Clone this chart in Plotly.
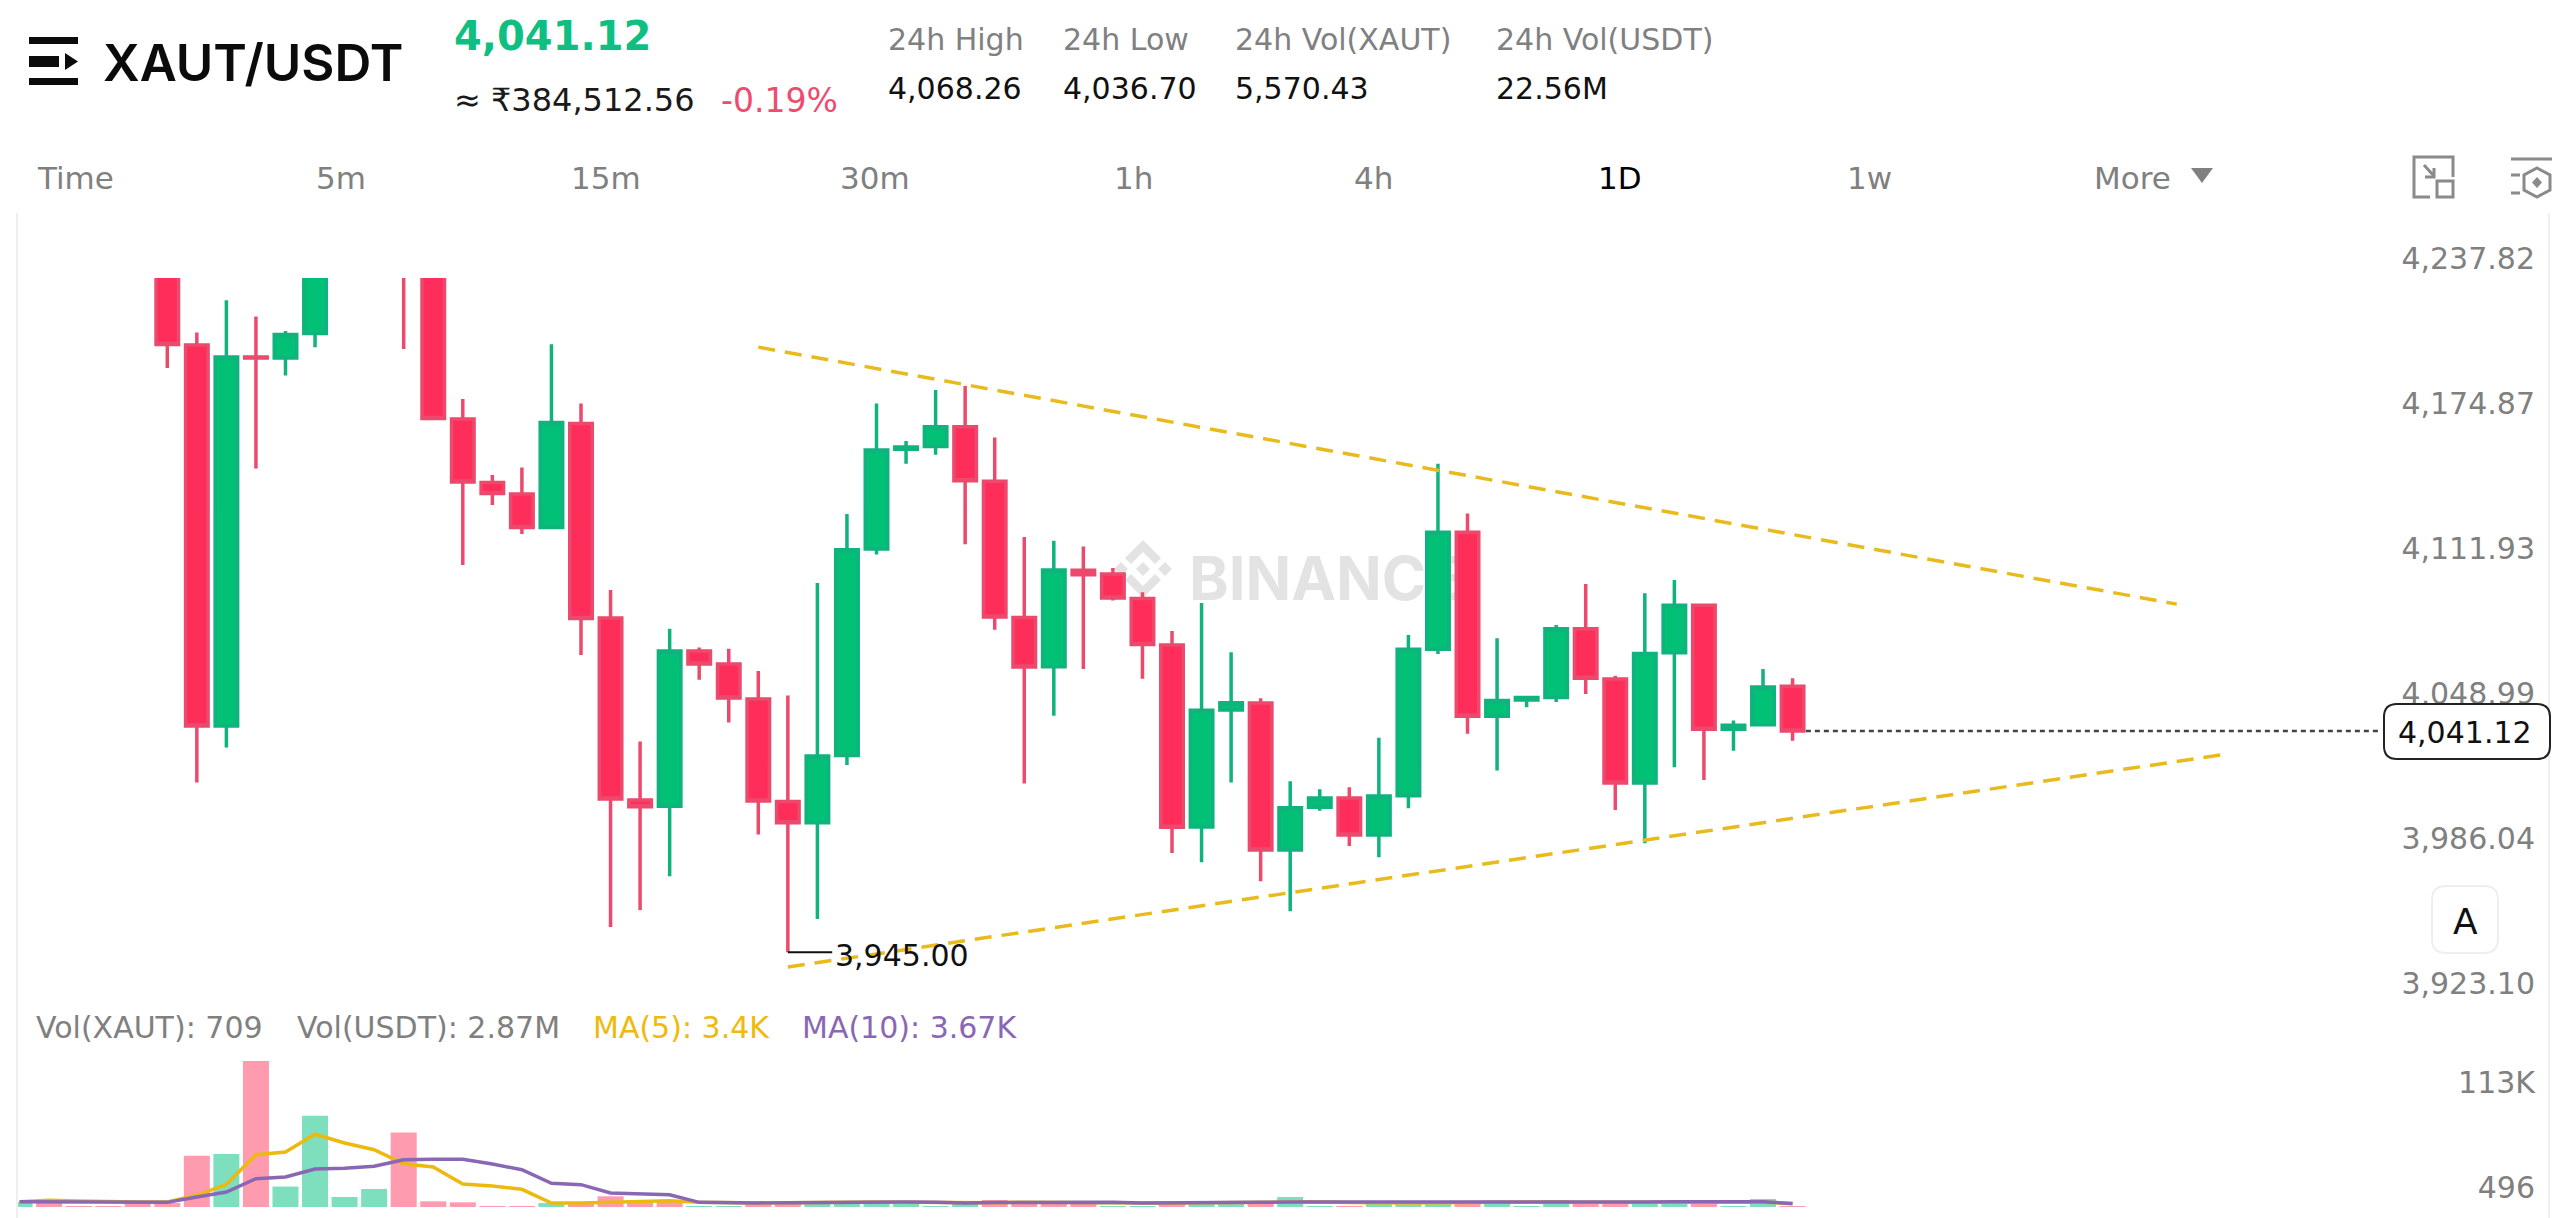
import plotly.graph_objects as go

W, H = 2560, 1218
FONT = "DejaVu Sans"
TITLE_FONT = "Inter"
GREEN = "#02C076"
RED = "#FF2D5A"
GREY = "#808080"

# ---------- data ----------
candle_index = list(range(0, 56))
open_ = [4270, 4208.7, 4043.3, 4203.5, 4203.1, 4213.7, 4250, 4262, 4275, 4245,
         4176.6, 4149.0, 4144.0, 4129.5, 4174.6, 4090.2, 4011.1, 4008.4, 4075.8, 4070.2,
         4055.0, 4010.5, 4001.2, 4030.4, 4120.1, 4163.5, 4164.6, 4173.2, 4149.6, 4090.4,
         4069.0, 4110.9, 4109.3, 4098.6, 4078.4, 3999.4, 4050.2, 4053.3, 3989.4, 4008.0,
         4012.0, 3995.9, 4013.0, 4076.6, 4127.4, 4047.5, 4054.6, 4055.6, 4085.5, 4063.7,
         4018.5, 4075.1, 4095.7, 4041.8, 4043.8, 4060.5]
high = [4285, 4214.1, 4228.2, 4221.1, 4214.8, 4255, 4290, 4300, 4285, 4250,
        4185.3, 4152.3, 4155.5, 4209.1, 4183.3, 4102.3, 4036.5, 4085.5, 4077.4, 4076.8,
        4067.2, 4056.5, 4105.4, 4135.3, 4183.3, 4167.0, 4189.2, 4190.9, 4168.5, 4125.3,
        4123.7, 4121.2, 4111.9, 4101.3, 4084.5, 4096.7, 4075.3, 4055.3, 4019.3, 4015.8,
        4016.7, 4038.2, 4082.8, 4157.2, 4135.5, 4081.4, 4056.4, 4087.1, 4104.9, 4065.1,
        4100.9, 4106.7, 4095.8, 4045.6, 4068.0, 4064.0]
low = [4198.7, 4018.7, 4033.9, 4155.1, 4195.5, 4207.8, 4243, 4245, 4207.0, 4176.1,
       4113.2, 4139.2, 4126.6, 4129.5, 4074.1, 3956.0, 3963.4, 3978.0, 4063.3, 4044.8,
       3996.1, 3945.00, 3959.5, 4026.3, 4117.7, 4157.2, 4161.1, 4122.2, 4085.1, 4018.3,
       4047.7, 4068.0, 4097.8, 4063.8, 3988.1, 3984.1, 4018.7, 3975.8, 3962.8, 4006.5,
       3991.2, 3986.3, 4007.5, 4074.5, 4039.9, 4023.9, 4051.4, 4053.7, 4057.2, 4006.8,
       3992.3, 4025.3, 4019.8, 4032.5, 4043.8, 4036.9]
close = [4208.9, 4043.3, 4203.5, 4203.1, 4213.3, 4245, 4262, 4275, 4245, 4176.8,
         4149.2, 4144.2, 4129.5, 4175.1, 4089.9, 4011.6, 4008.2, 4075.8, 4070.2, 4055.4,
         4010.7, 4001.2, 4030.2, 4119.8, 4163.1, 4164.4, 4173.2, 4149.8, 4090.6, 4068.9,
         4111.0, 4108.9, 4098.8, 4078.7, 3999.3, 4050.1, 4053.4, 3989.4, 4007.8, 4012.0,
         3995.9, 4012.9, 4076.6, 4127.4, 4047.5, 4054.3, 4055.6, 4085.5, 4064.0, 4018.5,
         4074.8, 4095.7, 4041.8, 4043.6, 4060.2, 4041.12]

volume_index = list(range(-5, 56))
volume = [5400, 5400, 700, 700, 4300, 4300, 55000, 57000, 157000, 22000,
          98000, 10800, 19400, 80000, 6100, 5000, 700, 700, 4300, 4300,
          11500, 7200, 5400, 700, 700, 4300, 4300, 4300, 4300, 4300,
          4300, 700, 4300, 7500, 4300, 4300, 4300, 700, 700, 4300,
          4300, 4300, 4300, 10800, 700, 700, 4300, 4300, 4300, 4300,
          7000, 700, 7500, 4300, 4300, 4300, 4300, 4300, 700, 8600, 709]
volume_up = [1, 0, 0, 0, 0, 0, 0, 1, 0, 1,
             1, 1, 1, 0, 0, 0, 0, 0, 1, 0,
             0, 0, 0, 1, 1, 0, 0, 1, 1, 1,
             1, 1, 1, 0, 0, 0, 0, 1, 1, 0,
             1, 1, 0, 1, 1, 0, 1, 1, 1, 0,
             1, 1, 1, 0, 0, 1, 1, 0, 1, 1, 0]
ma5 = [5700, 7200, 6500, 5700, 5400, 5400, 12600, 24400, 56200, 59100,
       78200, 68800, 61600, 46500, 43000, 24700, 22600, 19000, 4300, 4300,
       5400, 6500, 6800, 5000, 4500, 4400, 4500, 5000, 5300, 5500,
       5200, 4800, 4400, 4700, 5200, 5200, 5300, 4900, 4400, 4300,
       4500, 4800, 5200, 5800, 5600, 4900, 4500, 4400, 4700, 5000,
       5200, 5600, 5500, 5200, 5200, 5300, 5500, 5700, 5200, 5300, 3400]
ma10 = [5700, 5700, 5700, 5400, 5000, 5000, 10800, 16100, 30400, 32300,
        40900, 41600, 43800, 50800, 51300, 51300, 46200, 40100, 25500, 24000,
        15000, 14300, 13200, 5000, 4400, 4400, 4700, 5000, 5600, 5600,
        5400, 5000, 4300, 4800, 5000, 5000, 5200, 5000, 4300, 4300,
        4600, 4800, 5000, 5400, 5400, 4800, 4600, 4600, 4800, 5000,
        5000, 5400, 5400, 5000, 5200, 5400, 5600, 5600, 5400, 5600, 3670]

upper_trend_x = [20.0, 68.0]
upper_trend_y = [4207.8, 4096.2]
lower_trend_x = [21.0, 69.7]
lower_trend_y = [3938.6, 4031.1]

last_price = 4041.12
last_price_x = [55.45, 74.9]
low_price = 3945.00
low_marker_x = [21.0, 22.5]

price_ticks = [4237.82, 4174.87, 4111.93, 4048.99, 3986.04, 3923.10]
price_tick_labels = ["4,237.82", "4,174.87", "4,111.93", "4,048.99", "3,986.04", "3,923.10"]
volume_ticks = [113000, 496]
volume_tick_labels = ["113K", "496"]

stat_titles = ["24h High", "24h Low", "24h Vol(XAUT)", "24h Vol(USDT)"]
stat_values = ["4,068.26", "4,036.70", "5,570.43", "22.56M"]
stat_left = [887, 1062, 1234, 1495]
tab_names = ["Time", "5m", "15m", "30m", "1h", "4h", "1D", "1w", "More"]
tab_left = [36, 315, 570, 839, 1113, 1353, 1597, 1846, 2093]
legend_items = [("Vol(XAUT): 709", 35, "#808080"), ("Vol(USDT): 2.87M", 296, "#808080"),
                ("MA(5): 3.4K", 592, "#F0B90B"), ("MA(10): 3.67K", 801, "#8A67B5")]


# ---------- page helpers (furniture only) ----------
def fx(p):
    return p / W


def fy(p):
    return 1 - p / H


def path(points, closed=True):
    s = "M " + " L ".join(f"{fx(x):.6f},{fy(y):.6f}" for x, y in points)
    return s + (" Z" if closed else "")


def rounded(x0, y0, x1, y1, r):
    a, b = fx(x0), fy(y0)
    c, d = fx(x1), fy(y1)
    rx, ry = r / W, r / H
    return (f"M {a+rx:.6f},{b:.6f} L {c-rx:.6f},{b:.6f} Q {c:.6f},{b:.6f} {c:.6f},{b-ry:.6f} "
            f"L {c:.6f},{d+ry:.6f} Q {c:.6f},{d:.6f} {c-rx:.6f},{d:.6f} L {a+rx:.6f},{d:.6f} "
            f"Q {a:.6f},{d:.6f} {a:.6f},{d+ry:.6f} L {a:.6f},{b-ry:.6f} Q {a:.6f},{b:.6f} {a+rx:.6f},{b:.6f} Z")


shapes = []


def add_fill(points, color, layer="above"):
    shapes.append(dict(type="path", xref="paper", yref="paper", path=path(points),
                       fillcolor=color, line=dict(width=0), layer=layer))


def add_line(points, color=GREY, width=3, closed=False):
    shapes.append(dict(type="path", xref="paper", yref="paper", path=path(points, closed),
                       line=dict(color=color, width=width), layer="above"))


def note(text, x, y, size=30, color=GREY, anchor="left", weight=None, family=FONT):
    f = dict(family=family, size=size, color=color)
    if weight:
        f["weight"] = weight
    return dict(text=text, xref="paper", yref="paper", x=fx(x), y=fy(y), xanchor=anchor,
                yanchor="middle", showarrow=False, font=f, borderpad=0)


# logo
for y0, y1 in [(37, 44), (78, 85)]:
    add_fill([(29, y0), (78, y0), (78, y1), (29, y1)], "#0B0B0B")
add_fill([(29, 56), (59, 56), (59, 67), (29, 67)], "#0B0B0B")
add_fill([(65, 53), (78, 61.5), (65, 70)], "#0B0B0B")

# More triangle
add_fill([(2191, 168), (2213, 168), (2202, 183)], GREY)

# top-right icons
add_line([(2453, 177), (2453, 157), (2414, 157), (2414, 197), (2430, 197)], "#8A8A8A", 3)
add_line([(2437, 181), (2453, 181), (2453, 197), (2437, 197)], "#8A8A8A", 3, True)
add_line([(2424, 165), (2434, 176)], "#8A8A8A", 3)
add_line([(2434, 168), (2434, 177), (2425, 177)], "#8A8A8A", 3)
add_line([(2511, 159), (2552, 159)], "#8A8A8A", 3)
add_line([(2537, 168), (2550, 175), (2550, 190), (2537, 197), (2524, 190), (2524, 175)], "#8A8A8A", 3, True)
add_fill([(2537, 177), (2542, 182.5), (2537, 188), (2532, 182.5)], "#8A8A8A")
add_line([(2511, 175), (2520, 175)], "#8A8A8A", 3)
add_line([(2511, 193), (2520, 193)], "#8A8A8A", 3)

# panel frame
add_line([(17, 213), (17, 1218)], "#EFEFEF", 2)
add_line([(2549, 213), (2549, 1218)], "#EFEFEF", 2)

# watermark
WM = "#E3E3E3"
cx, cy = 1143, 569
add_fill([(cx, cy-29), (cx+18, cy-11), (cx+12, cy-5), (cx, cy-17), (cx-12, cy-5), (cx-18, cy-11)], WM, "below")
add_fill([(cx, cy+29), (cx+18, cy+11), (cx+12, cy+5), (cx, cy+17), (cx-12, cy+5), (cx-18, cy+11)], WM, "below")
add_fill([(cx, cy-7), (cx+7, cy), (cx, cy+7), (cx-7, cy)], WM, "below")
add_fill([(cx-22, cy-7), (cx-15, cy), (cx-22, cy+7), (cx-29, cy)], WM, "below")
add_fill([(cx+22, cy-7), (cx+29, cy), (cx+22, cy+7), (cx+15, cy)], WM, "below")
shapes.append(dict(type="rect", xref="paper", yref="paper", x0=fx(1186), x1=fx(1480), y0=fy(600), y1=fy(552),
                   line=dict(width=0), fillcolor="rgba(0,0,0,0)", layer="below",
                   label=dict(text="<b>BINANCE</b>", textposition="middle left", padding=0,
                              font=dict(family=TITLE_FONT, size=60, color=WM))))

# last price box and A button
shapes.append(dict(type="path", xref="paper", yref="paper", path=rounded(2384, 704, 2550, 759, 13),
                   fillcolor="#FFFFFF", line=dict(color="#222222", width=2), layer="above"))
shapes.append(dict(type="path", xref="paper", yref="paper", path=rounded(2432, 886, 2498, 953, 14),
                   fillcolor="#FFFFFF", line=dict(color="#EEEEEE", width=2), layer="above"))

annotations = [
    note("XAUT/USDT", 102, 62, 51, "#0B0B0B", weight=600, family=TITLE_FONT),
    note("4,041.12", 453, 36, 40, "#0FBF82", weight=700),
    note("≈ ₹384,512.56", 453, 100, 32, "#1A1A1A"),
    note("-0.19%", 720, 100, 33, "#EE4B6E"),
    note("4,041.12", 2465, 732, 30, "#111111", "center"),
    note("A", 2465, 921, 36, "#111111", "center"),
]
for title, val, left in zip(stat_titles, stat_values, stat_left):
    annotations.append(note(title, left, 39, 30, GREY))
    annotations.append(note(val, left, 88, 30, "#111111"))
for name, left in zip(tab_names, tab_left):
    annotations.append(note(name, left, 178, 31, "#000000" if name == "1D" else GREY))
for text, left, color in legend_items:
    annotations.append(note(text, left, 1027, 30, color))
annotations.append(dict(text=f"{low_price:,.2f}", x=low_marker_x[1], y=low_price, xref="x", yref="y",
                        xanchor="left", yanchor="middle", showarrow=False, xshift=1, yshift=-3,
                        font=dict(family=FONT, size=30, color="#111111")))

# ---------- traces ----------
fig = go.Figure()
fig.add_trace(go.Candlestick(
    x=candle_index, open=open_, high=high, low=low, close=close,
    increasing=dict(line=dict(color="#10B27E", width=3.5), fillcolor=GREEN),
    decreasing=dict(line=dict(color="#EC4A6C", width=3.5), fillcolor=RED),
    whiskerwidth=0, xaxis="x", yaxis="y", showlegend=False))
fig.add_trace(go.Bar(
    x=volume_index, y=volume, width=0.88, xaxis="x", yaxis="y2", showlegend=False,
    marker=dict(color=["#7DDFBE" if u else "#FF9BAE" for u in volume_up], line=dict(width=0))))
fig.add_trace(go.Scatter(x=volume_index, y=ma5, mode="lines", xaxis="x", yaxis="y2", showlegend=False,
                         line=dict(color="#EDB90F", width=3.5)))
fig.add_trace(go.Scatter(x=volume_index, y=ma10, mode="lines", xaxis="x", yaxis="y2", showlegend=False,
                         line=dict(color="#8A67B5", width=3.5)))
for xs, ys in [(upper_trend_x, upper_trend_y), (lower_trend_x, lower_trend_y)]:
    fig.add_trace(go.Scatter(x=xs, y=ys, mode="lines", xaxis="x", yaxis="y", showlegend=False,
                             line=dict(color="#E9BA1C", width=3.5, dash="17px,10px")))
fig.add_trace(go.Scatter(x=last_price_x, y=[last_price, last_price], mode="lines", xaxis="x", yaxis="y",
                         showlegend=False, line=dict(color="#444444", width=2.5, dash="5px,4px")))
fig.add_trace(go.Scatter(x=low_marker_x, y=[low_price, low_price], mode="lines", xaxis="x", yaxis="y",
                         showlegend=False, line=dict(color="#111111", width=2)))

tick_font = dict(family=FONT, size=30, color=GREY)
fig.update_layout(
    width=W, height=H, margin=dict(l=0, r=0, t=0, b=0, pad=0, autoexpand=False), autosize=False,
    paper_bgcolor="#FFFFFF", plot_bgcolor="#FFFFFF", font=dict(family=FONT),
    boxgap=0.239, boxgroupgap=0, barmode="overlay", dragmode=False,
    showlegend=False, hovermode=False, shapes=shapes, annotations=annotations,
    xaxis=dict(domain=[18 / W, 1], range=[-5.052, 80.97], visible=False, rangeslider=dict(visible=False),
               fixedrange=True, automargin=False),
    yaxis=dict(domain=[1 - 1002.7 / H, 1 - 278 / H], range=[3923.10, 4237.82], side="left", anchor="free",
               position=2535 / W, tickvals=price_ticks, ticktext=[t + "<br> " for t in price_tick_labels],
               tickfont=tick_font, ticks="", showgrid=False, zeroline=False, showline=False, fixedrange=True,
               automargin=False, ticklabeloverflow="allow"),
    yaxis2=dict(domain=[1 - 1207 / H, 1 - 1010 / H], range=[0, 211800], side="left", anchor="free",
                position=2535 / W, tickvals=volume_ticks, ticktext=[t + "<br> " for t in volume_tick_labels],
                tickfont=tick_font, ticks="", showgrid=False, zeroline=False, showline=False, fixedrange=True,
                automargin=False, ticklabeloverflow="allow"),
)

fig.write_html("out.html", config=dict(displayModeBar=False),
               post_script="document.body.style.margin='0';document.documentElement.style.overflow='hidden';")
